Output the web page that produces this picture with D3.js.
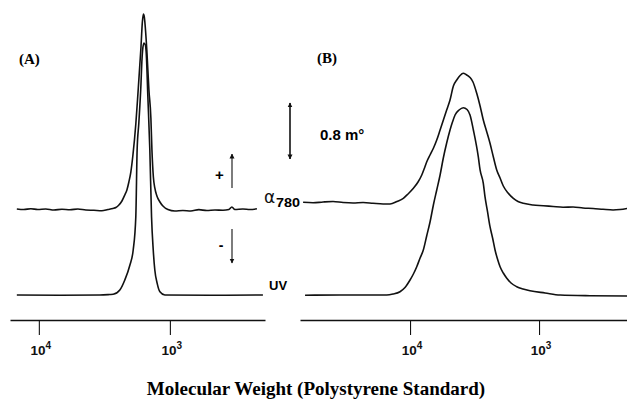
<!DOCTYPE html>
<html>
<head>
<meta charset="utf-8">
<script src="https://cdn.jsdelivr.net/npm/d3@7"></script>
<style>
  body { margin: 0; background: #fff; }
  svg { display: block; }
</style>
</head>
<body>
<svg id="chart" width="627" height="405"></svg>
<script>
// x values are log10(molecular weight), y values in millidegrees (UV scaled to same frame)
const axisMwA = [16600, 188];
const axisMwB = [71290, 208];
const tickMw = [1e4, 1e3];
const tickExp = ["4", "3"];
const scaleBar = 0.8;

const alphaA = [
  [4.168, 1.229], [4.115, 1.221], [4.061, 1.233], [4.008, 1.221], [3.947, 1.229],
  [3.885, 1.214], [3.824, 1.226], [3.763, 1.217], [3.702, 1.229], [3.641, 1.214],
  [3.580, 1.210], [3.519, 1.204], [3.473, 1.221], [3.435, 1.236], [3.412, 1.250],
  [3.389, 1.286], [3.366, 1.343], [3.344, 1.429], [3.328, 1.500], [3.313, 1.614],
  [3.298, 1.757], [3.282, 2.000], [3.260, 2.443], [3.244, 2.871], [3.229, 3.300],
  [3.221, 3.529], [3.210, 3.900], [3.202, 4.014], [3.195, 3.971], [3.191, 3.900],
  [3.176, 3.500], [3.160, 2.929], [3.145, 2.529], [3.137, 2.071], [3.126, 1.686],
  [3.115, 1.529], [3.099, 1.414], [3.076, 1.329], [3.053, 1.271], [3.015, 1.221],
  [2.962, 1.200], [2.901, 1.207], [2.840, 1.200], [2.779, 1.219], [2.718, 1.207],
  [2.656, 1.214], [2.595, 1.210], [2.550, 1.221], [2.527, 1.257], [2.504, 1.221],
  [2.443, 1.229], [2.389, 1.221], [2.336, 1.231]
];

const uvA = [
  [4.168, 0.000], [3.840, -0.004], [3.534, 0.000], [3.458, 0.007], [3.433, 0.010],
  [3.382, 0.071], [3.344, 0.214], [3.305, 0.429], [3.280, 0.643], [3.260, 1.119],
  [3.250, 2.071], [3.237, 2.457], [3.221, 3.000], [3.214, 3.329], [3.208, 3.500],
  [3.198, 3.600], [3.187, 3.571], [3.181, 3.471], [3.168, 2.829], [3.153, 2.071],
  [3.140, 1.119], [3.127, 0.643], [3.115, 0.357], [3.097, 0.167], [3.076, 0.047],
  [3.038, 0.000], [2.695, -0.004], [2.290, 0.000]
];

const alphaB = [
  [4.829, 1.324], [4.752, 1.317], [4.674, 1.329], [4.597, 1.336], [4.519, 1.321],
  [4.442, 1.314], [4.364, 1.321], [4.287, 1.310], [4.209, 1.300], [4.155, 1.300],
  [4.101, 1.336], [4.052, 1.381], [4.016, 1.443], [3.974, 1.524], [3.938, 1.614],
  [3.909, 1.714], [3.891, 1.800], [3.871, 1.900], [3.845, 2.000], [3.819, 2.096],
  [3.793, 2.214], [3.767, 2.357], [3.716, 2.643], [3.690, 2.786], [3.664, 2.986],
  [3.638, 3.071], [3.612, 3.136], [3.587, 3.167], [3.566, 3.150], [3.535, 3.107],
  [3.512, 3.043], [3.483, 2.881], [3.457, 2.700], [3.432, 2.500], [3.405, 2.329],
  [3.380, 2.167], [3.354, 1.971], [3.328, 1.786], [3.302, 1.671], [3.277, 1.557],
  [3.240, 1.457], [3.199, 1.381], [3.163, 1.336], [3.122, 1.310], [3.047, 1.286],
  [2.967, 1.276], [2.891, 1.264], [2.814, 1.253], [2.736, 1.257], [2.659, 1.243],
  [2.581, 1.236], [2.504, 1.224], [2.426, 1.214], [2.372, 1.221], [2.318, 1.236]
];

const uvB = [
  [4.814, -0.004], [4.543, 0.000], [4.310, 0.000], [4.181, 0.000], [4.132, 0.014],
  [4.078, 0.047], [4.039, 0.107], [4.000, 0.214], [3.974, 0.300], [3.948, 0.404],
  [3.922, 0.529], [3.897, 0.643], [3.871, 0.843], [3.845, 1.043], [3.819, 1.286],
  [3.793, 1.500], [3.767, 1.714], [3.742, 1.957], [3.716, 2.171], [3.690, 2.357],
  [3.671, 2.471], [3.651, 2.571], [3.620, 2.643], [3.587, 2.676], [3.558, 2.650],
  [3.535, 2.571], [3.509, 2.357], [3.471, 1.976], [3.457, 1.786], [3.432, 1.596],
  [3.419, 1.404], [3.399, 1.186], [3.380, 0.976], [3.360, 0.814], [3.341, 0.643],
  [3.322, 0.514], [3.302, 0.404], [3.277, 0.314], [3.250, 0.239], [3.217, 0.171],
  [3.173, 0.119], [3.124, 0.086], [3.070, 0.061], [2.953, 0.029], [2.837, 0.000],
  [2.605, -0.010], [2.318, -0.014]
];

const svg = d3.select("#chart");
const axisY = 320;
const sans = "Liberation Sans, Arial, sans-serif";
const serif = "Liberation Serif, Times New Roman, serif";

const xA = d3.scaleLog().domain(axisMwA).range([10, 265]);
const xB = d3.scaleLog().domain(axisMwB).range([300, 627]);
const y = d3.scaleLinear().domain([0, 4]).range([295, 15]);

function drawTrace(data, x){
  const line = d3.line()
    .x(d => x(Math.pow(10, d[0])))
    .y(d => y(d[1]))
    .curve(d3.curveMonotoneX);
  svg.append("path")
    .datum(data)
    .attr("d", line)
    .attr("fill", "none")
    .attr("stroke", "#111")
    .attr("stroke-width", 1.6)
    .attr("stroke-linejoin", "round");
}

drawTrace(alphaA, xA);
drawTrace(uvA, xA);
drawTrace(alphaB, xB);
drawTrace(uvB, xB);

function drawAxis(x){
  const g = svg.append("g")
    .attr("transform", `translate(0,${axisY})`)
    .call(d3.axisBottom(x).tickValues(tickMw).tickSize(15).tickSizeOuter(0).tickFormat(""));
  g.select(".domain").attr("stroke", "#111").attr("stroke-width", 1.4);
  g.selectAll(".tick line").attr("stroke", "#111").attr("stroke-width", 1.1);
  tickMw.forEach((m, i) => {
    const t = g.append("text")
      .attr("x", x(m) + 2)
      .attr("y", 35)
      .attr("text-anchor", "middle")
      .attr("font-family", sans)
      .attr("font-weight", "bold")
      .attr("font-size", 13.5)
      .attr("fill", "#111");
    t.append("tspan").text("10");
    t.append("tspan").attr("font-size", 10).attr("dy", -6).text(tickExp[i]);
  });
}
drawAxis(xA);
drawAxis(xB);

// panel letters
svg.append("text").attr("x", 19).attr("y", 64).text("(A)")
  .attr("font-family", serif).attr("font-weight", "bold").attr("font-size", 15);
svg.append("text").attr("x", 317).attr("y", 63).text("(B)")
  .attr("font-family", serif).attr("font-weight", "bold").attr("font-size", 15);

// arrow marker
const defs = svg.append("defs");
defs.append("marker")
  .attr("id", "head")
  .attr("viewBox", "0 0 10 10")
  .attr("refX", 9).attr("refY", 5)
  .attr("markerWidth", 5).attr("markerHeight", 7)
  .attr("markerUnits", "userSpaceOnUse")
  .attr("orient", "auto")
  .append("path").attr("d", "M0,0L10,5L0,10Z").attr("fill", "#111");

function arrow(x1, y1, x2, y2){
  svg.append("line")
    .attr("x1", x1).attr("y1", y1).attr("x2", x2).attr("y2", y2)
    .attr("stroke", "#111").attr("stroke-width", 1.1)
    .attr("marker-end", "url(#head)");
}

// scale bar: 0.8 m°
const barTop = y(2.743);
const barBot = y(2.743 - scaleBar);
arrow(290, barBot, 290, barTop);
arrow(290, barTop, 290, barBot);
svg.append("text").attr("x", 320).attr("y", 140)
  .attr("font-family", sans).attr("font-weight", "bold").attr("font-size", 15)
  .text(scaleBar + " m°");

// sign arrows
arrow(232, 188, 232, 154);
arrow(232, 229, 232, 263);
svg.append("text").attr("x", 219.5).attr("y", 180).attr("text-anchor", "middle")
  .attr("font-family", sans).attr("font-weight", "bold").attr("font-size", 15).text("+");
svg.append("text").attr("x", 221).attr("y", 250).attr("text-anchor", "middle")
  .attr("font-family", sans).attr("font-weight", "bold").attr("font-size", 14).text("-");

// trace labels
svg.append("text").attr("x", 264).attr("y", 203)
  .attr("font-family", "DejaVu Sans, sans-serif").attr("font-size", 17).attr("fill", "#111")
  .text("α");
svg.append("text").attr("x", 276).attr("y", 207)
  .attr("font-family", sans).attr("font-weight", "bold").attr("font-size", 12)
  .attr("textLength", 24).attr("lengthAdjust", "spacingAndGlyphs")
  .text("780");
svg.append("text").attr("x", 269).attr("y", 290)
  .attr("font-family", sans).attr("font-weight", "bold")
  .attr("font-size", 13).text("UV");

// x title
svg.append("text").attr("x", 316).attr("y", 395).attr("text-anchor", "middle")
  .attr("font-family", serif).attr("font-weight", "bold").attr("font-size", 19)
  .text("Molecular Weight (Polystyrene Standard)");
</script>
</body>
</html>
